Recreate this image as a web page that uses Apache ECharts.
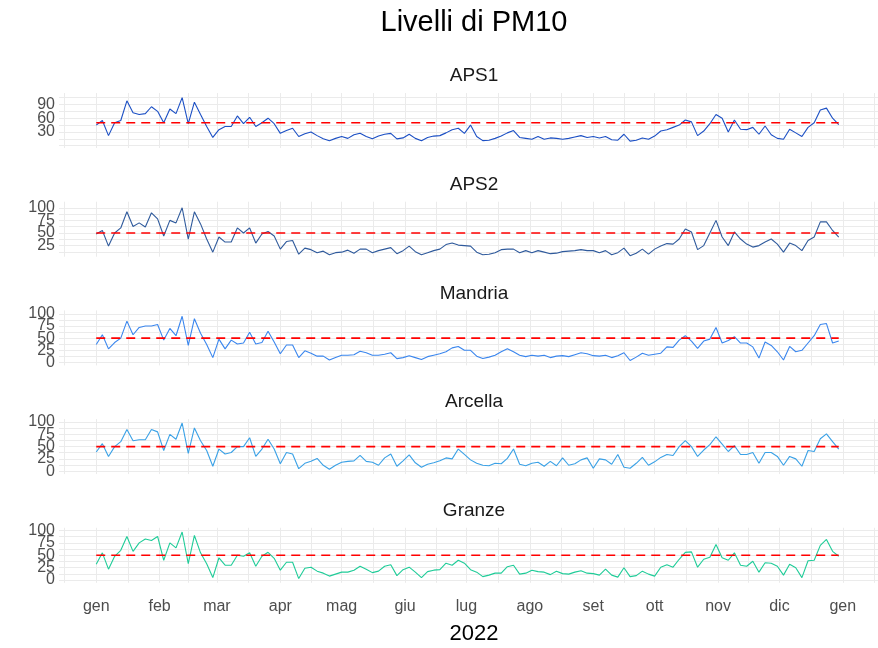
<!DOCTYPE html>
<html>
<head>
<meta charset="utf-8">
<script src="https://cdn.jsdelivr.net/npm/echarts@6/dist/echarts.min.js"></script>
<style>
html,body{margin:0;padding:0;background:#ffffff;}
#chart{width:878px;height:648px;}
</style>
</head>
<body>
<div id="chart"></div>
<script>
// Day of year 2022 (0 = 1 gen) at which values were read
const days = [0,3,6,9,12,15,18,21,24,27,30,33,36,39,42,45,48,51,54,57,60,63,66,69,72,75,78,81,84,87,90,93,96,99,102,105,108,111,114,117,120,123,126,129,132,135,138,141,144,147,150,153,156,159,162,165,168,171,174,177,180,183,186,189,192,195,198,201,204,207,210,213,216,219,222,225,228,231,234,237,240,243,246,249,252,255,258,261,264,267,270,273,276,279,282,285,288,291,294,297,300,303,306,309,312,315,318,321,324,327,330,333,336,339,342,345,348,351,354,357,360,363];

const aps1 = [45,55,22,50,55,98,72,68,70,85,75,50,80,70,105,48,95,68,42,18,35,42,42,65,48,62,42,50,60,48,27,33,38,20,26,30,22,15,11,16,20,16,24,27,20,15,21,25,27,15,17,25,16,11,18,21,22,28,35,38,27,
  45,20,11,12,16,21,28,33,18,16,14,20,14,17,16,14,16,19,22,18,20,17,20,13,12,25,10,12,17,14,21,32,35,40,45,56,52,22,32,48,68,60,30,56,36,35,40,25,43,24,16,14,36,28,20,40,50,78,82,60,46];
const aps2 = [48,55,24,50,60,92,63,70,62,90,78,44,75,70,100,38,92,68,38,12,42,32,32,60,50,60,30,48,53,44,18,33,35,8,20,17,11,14,7,11,12,16,10,18,18,11,15,18,21,9,15,24,13,7,11,15,18,27,30,26,25,
  24,12,7,8,11,17,18,18,11,15,11,15,12,9,10,13,14,15,17,15,15,11,15,7,11,20,5,10,18,8,18,24,29,28,38,58,52,17,25,50,75,42,25,52,38,28,22,25,32,38,28,12,30,25,15,35,42,72,72,55,42];
const mandria = [37,57,28,41,50,85,57,72,75,75,78,46,70,55,95,35,90,60,37,10,48,28,46,38,40,62,38,41,64,42,18,36,36,10,24,19,13,13,5,10,15,15,16,23,20,15,15,17,20,8,10,14,10,6,12,15,18,22,30,33,25,
  25,13,8,11,15,22,28,22,15,12,15,13,15,10,13,14,12,16,20,18,14,13,15,10,14,20,4,11,19,15,17,19,32,31,46,55,44,29,44,48,72,40,45,53,40,40,32,9,42,35,22,5,33,22,25,40,55,78,80,40,44];
const arcella = [39,56,30,50,60,85,62,64,64,85,80,42,75,65,98,36,88,62,42,10,45,35,38,50,50,68,30,45,65,45,15,38,35,5,16,20,26,12,4,12,18,20,21,32,20,18,12,27,35,10,21,33,17,8,14,17,21,27,25,45,34,
  23,16,12,11,16,15,26,45,14,11,16,18,10,20,11,27,12,15,23,27,6,25,23,14,34,8,6,16,28,12,19,28,34,32,50,62,50,30,43,54,70,55,40,52,34,34,38,16,38,38,30,12,30,25,10,42,40,66,76,60,45];
const granze = [32,55,22,48,60,88,58,75,83,80,88,40,75,65,97,33,90,55,33,5,45,30,30,50,48,55,28,48,56,44,20,36,36,3,24,26,18,14,8,12,16,16,20,28,22,15,18,28,31,9,21,26,16,5,17,20,21,34,30,40,34,
  21,16,7,10,14,14,27,30,12,14,20,17,16,11,18,13,12,16,19,14,13,10,22,10,6,25,7,9,18,12,8,26,31,26,42,56,57,26,42,46,72,45,40,55,30,28,38,16,35,34,28,10,32,25,5,39,40,70,82,58,48];

const stations = ['APS1','APS2','Mandria','Arcella','Granze'];
const values = [aps1, aps2, mandria, arcella, granze];
const LIMIT = 50;

// x axis: month starts (labels) and mid-month minor grid
const monthLabels = ['gen','feb','mar','apr','mag','giu','lug','ago','set','ott','nov','dic','gen'];
const monthStarts = [0,31,59,90,120,151,181,212,243,273,304,334,365];
const monthMids = [-15.5,15.5,45,74.5,105,135.5,166,196.5,227.5,258,288.5,319,349.5,380.5];

// y axis ticks per panel
const yLabelTicks = [[30,60,90],[25,50,75,100],[0,25,50,75,100],[0,25,50,75,100],[0,25,50,75,100]];
const yGridTicks = [
  [0,15,30,45,60,75,90,105],
  [12.5,25,37.5,50,62.5,75,87.5,100],
  [0,12.5,25,37.5,50,62.5,75,87.5,100],
  [0,12.5,25,37.5,50,62.5,75,87.5,100],
  [0,12.5,25,37.5,50,62.5,75,87.5,100]
];
const yRanges = [[-5,115],[3,112],[-6,107],[-6,106],[-5.5,105.5]];
const xRange = [-18.2, 382.2];

const colors = ['#1b4fc4','#2f5a9c','#3a86ee','#3aa1e6','#1fcc98'];
const FONT = '"Liberation Sans", Arial, sans-serif';

const GRID_LEFT = 59, GRID_TOP0 = 93, GRID_STEP = 108.7, GRID_H = 55;

const grids = [], xAxes = [], yAxes = [], series = [], graphics = [];
const xGrid = monthStarts.concat(monthMids).sort((a,b)=>a-b).filter(v => v >= xRange[0] && v <= xRange[1]);
const yLabelStyle = {color: '#4d4d4d', fontSize: 16, fontFamily: FONT, margin: 4, showMinLabel: true, showMaxLabel: true, hideOverlap: false};

stations.forEach((name, i) => {
  const top = GRID_TOP0 + GRID_STEP * i;
  grids.push({left: GRID_LEFT, right: -12, top: top, height: GRID_H});
  xAxes.push({
    type: 'value', gridIndex: i, min: xRange[0], max: xRange[1],
    axisLine: {show: false},
    axisTick: {show: false, customValues: xGrid},
    splitLine: {show: true, lineStyle: {color: '#ebebeb', width: 1}},
    axisLabel: {
      show: i === stations.length - 1,
      customValues: monthStarts,
      showMinLabel: true, showMaxLabel: true, hideOverlap: false,
      formatter: v => monthLabels[monthStarts.indexOf(v)],
      color: '#4d4d4d', fontSize: 16, fontFamily: FONT, margin: 16
    }
  });
  const yr = yRanges[i];
  const labs = yLabelTicks[i];
  // labels are split over two overlaid axes so that the crowded labels all stay visible
  yAxes.push({
    type: 'value', gridIndex: i, min: yr[0], max: yr[1], position: 'left', offset: 0,
    axisLine: {show: false},
    axisTick: {show: false, customValues: yGridTicks[i].filter(v => v >= yr[0] && v <= yr[1])},
    splitLine: {show: true, lineStyle: {color: '#ebebeb', width: 1}},
    axisLabel: Object.assign({customValues: labs.filter((v, k) => k % 2 === 0)}, yLabelStyle)
  });
  yAxes.push({
    type: 'value', gridIndex: i, min: yr[0], max: yr[1], position: 'left', offset: 0,
    axisLine: {show: false},
    axisTick: {show: false, customValues: labs.filter((v, k) => k % 2 === 1)},
    splitLine: {show: false},
    axisLabel: Object.assign({customValues: labs.filter((v, k) => k % 2 === 1)}, yLabelStyle)
  });
  series.push({
    name: name, type: 'line', xAxisIndex: i, yAxisIndex: 2 * i,
    data: days.map((d, j) => [d, values[i][j]]),
    showSymbol: false, symbol: 'none',
    lineStyle: {color: colors[i], width: 1.1},
    animation: false, z: 2
  });
  series.push({
    name: name + ' limite', type: 'line', xAxisIndex: i, yAxisIndex: 2 * i,
    data: [[days[0], LIMIT], [days[days.length - 1], LIMIT]],
    showSymbol: false, symbol: 'none',
    lineStyle: {color: '#ff0000', width: 1.6, type: [9, 6]},
    animation: false, z: 3
  });
  graphics.push({
    type: 'text', x: 474, y: top - 17,
    style: {text: name, align: 'center', verticalAlign: 'middle', font: '19px ' + FONT, fill: '#1a1a1a'}
  });
});

graphics.push({
  type: 'text', x: 474, y: 23,
  style: {text: 'Livelli di PM10', align: 'center', verticalAlign: 'middle', font: '29px ' + FONT, fill: '#000000'}
});
graphics.push({
  type: 'text', x: 474, y: 634,
  style: {text: '2022', align: 'center', verticalAlign: 'middle', font: '22px ' + FONT, fill: '#000000'}
});

const chart = echarts.init(document.getElementById('chart'));
chart.setOption({
  animation: false,
  backgroundColor: '#ffffff',
  grid: grids,
  xAxis: xAxes,
  yAxis: yAxes,
  series: series,
  graphic: graphics
});
</script>
</body>
</html>
